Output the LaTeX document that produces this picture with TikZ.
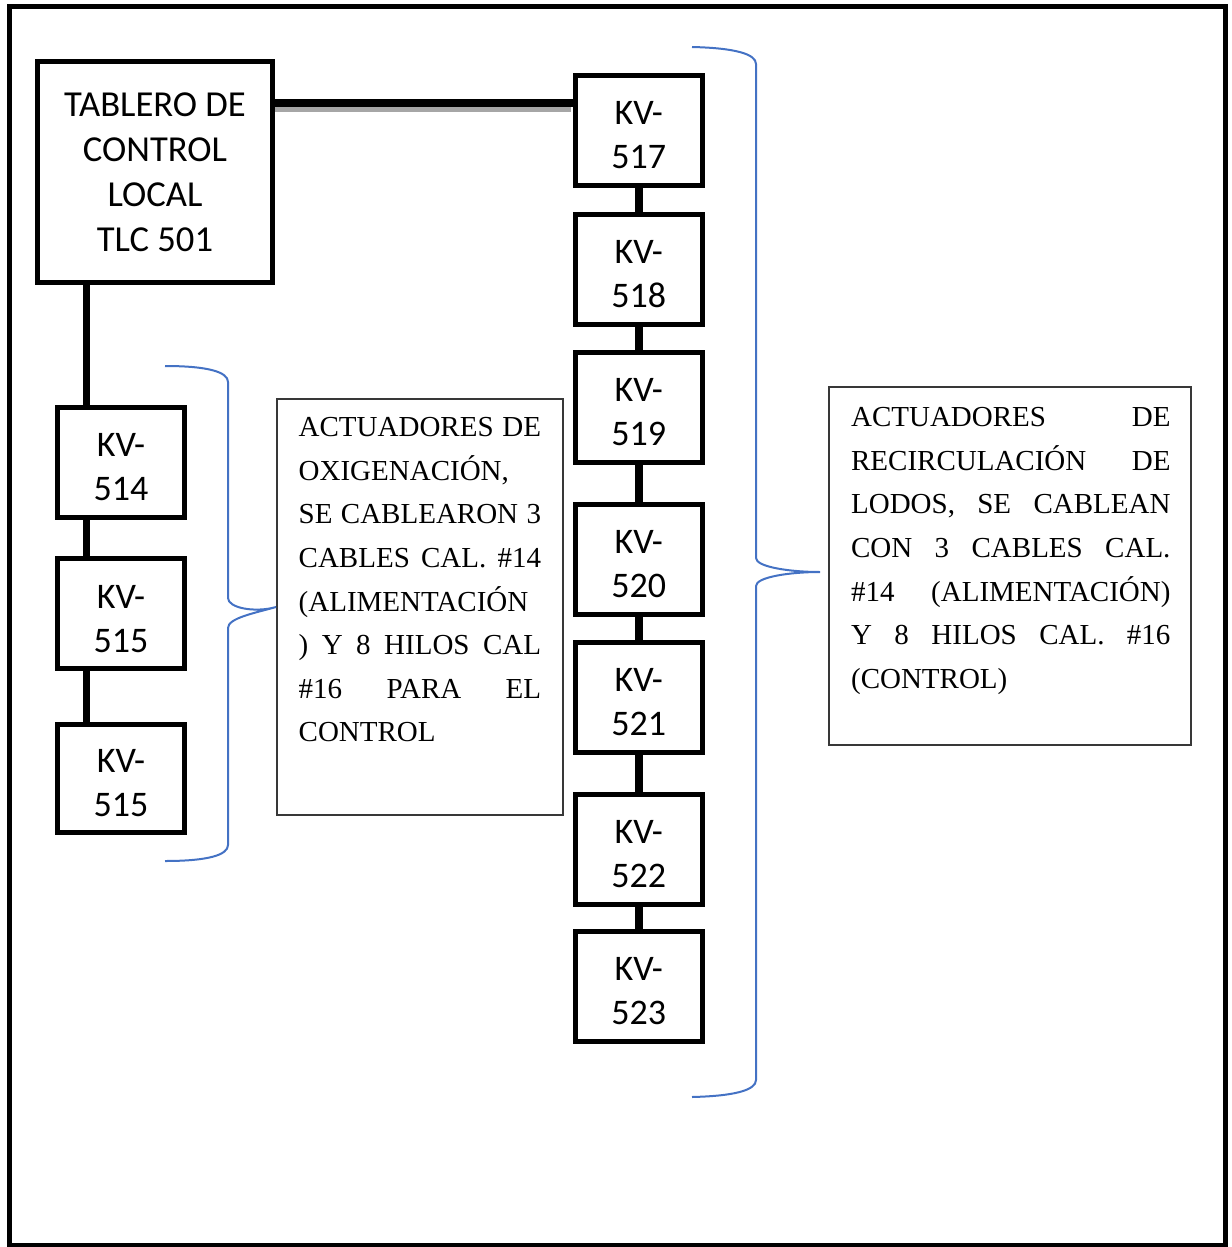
\documentclass[tikz,border=0pt]{standalone}
\usepackage{fontspec}
\setmainfont{Liberation Serif}
\newfontfamily\calib{Carlito}
\definecolor{bracecol}{HTML}{4472C4}
% a line of a justified paragraph: its spaces stretch to the full width
\newcommand{\jline}[1]{\makebox[\hsize][s]{\spaceskip=0pt\xspaceskip=0pt #1}}

\tikzset{
  unitbox/.style={draw, line width=2.5pt, rectangle, inner sep=0pt},
  kvbox/.style={unitbox, minimum width=63.25pt, minimum height=55pt},
  kvtag/.style={font=\calib\fontsize{18}{22}\selectfont, align=center,
                inner sep=0pt, yshift=-2.5pt},
  tlcbox/.style={unitbox, minimum width=117.5pt, minimum height=110.25pt,
                 font=\calib\fontsize{18.3}{22.65}\selectfont, align=center},
  wire/.style={line width=3.75pt},
  wireshade/.style={line width=2.5pt, draw=black!35},
  note/.style={draw=black!78, line width=0.9pt, rectangle, inner sep=0pt},
  notetext/.style={inner sep=0pt, align=left, anchor=base west,
                   font=\fontsize{14.5}{21.8}\selectfont},
  brace/.style={draw=bracecol, line width=1pt},
  frame/.style={line width=2.5pt},
}

\begin{document}
\begin{tikzpicture}[x=0.5pt, y=-0.5pt]
  \useasboundingbox (0,0) rectangle (1231,1247);
  % outer frame
  \draw[frame] (9,7) rectangle (1225,1245);

  % local control panel
  \node[tlcbox] (tlc) at (155,172.25) {TABLERO DE\\CONTROL\\LOCAL\\TLC 501};

  % oxygenation actuators
  \node[kvbox, label={[kvtag]center:KV-\\514}] (k514) at (121,462.25) {};
  \node[kvbox, label={[kvtag]center:KV-\\515}] (k515) at (121,613.75) {};
  \node[kvbox, minimum height=54pt, label={[kvtag]center:KV-\\515}] (k515b) at (121,778.5) {};

  % sludge recirculation actuators
  \node[kvbox, label={[kvtag]center:KV-\\517}] (k517) at (638.75,130.5) {};
  \node[kvbox, label={[kvtag]center:KV-\\518}] (k518) at (638.75,269) {};
  \node[kvbox, label={[kvtag]center:KV-\\519}] (k519) at (638.75,407) {};
  \node[kvbox, label={[kvtag]center:KV-\\520}] (k520) at (638.75,559) {};
  \node[kvbox, label={[kvtag]center:KV-\\521}] (k521) at (638.75,697) {};
  \node[kvbox, label={[kvtag]center:KV-\\522}] (k522) at (638.75,849) {};
  \node[kvbox, label={[kvtag]center:KV-\\523}] (k523) at (638.75,986.5) {};

  % wiring
  \coordinate (lx) at (86.5,0);
  \coordinate (hy) at (0,103);
  \coordinate (sy) at (0,109.5);
  \draw[wireshade] (sy -| tlc.east) -- ([xshift=-1pt]sy -| k517.west);
  \draw[wire] (hy -| tlc.east) -- (hy -| k517.west);
  \draw[wire] (lx |- tlc.south) -- (lx |- k514.north);
  \draw[wire] (lx |- k514.south) -- (lx |- k515.north);
  \draw[wire] (lx |- k515.south) -- (lx |- k515b.north);
  \draw[wire] (k517) -- (k518);
  \draw[wire] (k518) -- (k519);
  \draw[wire] (k519) -- (k520);
  \draw[wire] (k520) -- (k521);
  \draw[wire] (k521) -- (k522);
  \draw[wire] (k522) -- (k523);

  % notes
  \node[note, minimum width=143pt, minimum height=208pt] (noteA) at (420,607) {};
  \node[notetext, text width=121.2pt] (noteAtext) at (298.3,436.7) {%
    \jline{ACTUADORES DE}\\
    OXIGENACIÓN,\\
    \jline{SE CABLEARON 3}\\
    \jline{CABLES CAL. \#14}\\
    (ALIMENTACIÓN\\
    \jline{) Y 8 HILOS CAL}\\
    \jline{\#16 PARA EL}\\
    CONTROL};

  \node[note, minimum width=181pt, minimum height=179pt] (noteB) at (1010,566) {};
  \node[notetext, text width=159.7pt] (noteBtext) at (850.7,426.7) {%
    \jline{ACTUADORES DE}\\
    \jline{RECIRCULACIÓN DE}\\
    \jline{LODOS, SE CABLEAN}\\
    \jline{CON 3 CABLES CAL.}\\
    \jline{\#14 (ALIMENTACIÓN)}\\
    \jline{Y 8 HILOS CAL. \#16}\\
    (CONTROL)};

  % braces
  \draw[brace] (165,366) .. controls (208,366) and (228,372) .. (228,382)
    -- (228,598) .. controls (228,608) and (255,613) .. (noteA.west)
    .. controls (255,613) and (228,618) .. (228,628)
    -- (228,845) .. controls (228,855) and (208,861) .. (165,861);
  \draw[brace] (692,47) .. controls (735,48) and (756,54) .. (756,64)
    -- (756,558) .. controls (756,567) and (790,572) .. (820,572)
    .. controls (790,572) and (756,577) .. (756,586)
    -- (756,1080) .. controls (756,1090) and (735,1096) .. (692,1097);
\end{tikzpicture}
\end{document}
